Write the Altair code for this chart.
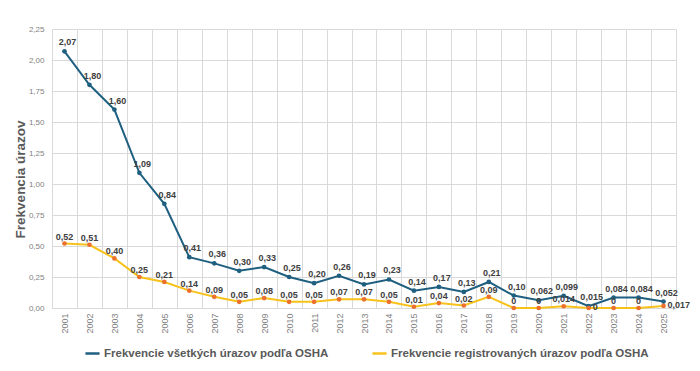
import altair as alt
import pandas as pd

years = [str(y) for y in range(2001, 2026)]
all_injuries = [2.07, 1.80, 1.60, 1.09, 0.84, 0.41, 0.36, 0.30, 0.33, 0.25, 0.20, 0.26, 0.19,
                0.23, 0.14, 0.17, 0.13, 0.21, 0.10, 0.062, 0.099, 0.015, 0.084, 0.084, 0.052]
registered = [0.52, 0.51, 0.40, 0.25, 0.21, 0.14, 0.09, 0.05, 0.08, 0.05, 0.05, 0.07, 0.07,
              0.05, 0.01, 0.04, 0.02, 0.09, 0, 0, 0.014, 0, 0, 0, 0.017]
series_names = ["Frekvencie všetkých úrazov podľa OSHA",
                "Frekvencie registrovaných úrazov podľa OSHA"]


def fmt(v):
    if v == 0:
        return "0"
    s = f"{v:.2f}" if round(v, 2) == v else f"{v:.3f}"
    return s.replace(".", ",")


rows = []
for i, (name, vals) in enumerate(zip(series_names, [all_injuries, registered])):
    for j, (y, v) in enumerate(zip(years, vals)):
        # registered labels that would collide with the upper series go to the right
        side = (i == 1) and (all_injuries[j] - v < 0.04)
        rows.append({"year": y, "value": v, "series": name, "label": fmt(v),
                     "grp": "top" if i == 0 else ("reg_side" if side else "reg_top")})
df = pd.DataFrame(rows)

FONT = "Liberation Sans"
line_colors = ["#1f5f80", "#f7c21b"]
marker_colors = ["#1f5f80", "#ec6f2d"]

x = alt.X("year:O", title=None,
          scale=alt.Scale(type="band", paddingInner=0, paddingOuter=0),
          axis=alt.Axis(labelAngle=270, labelFontSize=9, labelColor="#7f7f7f", labelFont=FONT,
                        tickBand="extent", grid=True, gridColor="#d9d9d9", ticks=False,
                        domain=False, labelPadding=5))
y = alt.Y("value:Q", title="Frekvencia  úrazov",
          scale=alt.Scale(domain=[0, 2.25], nice=False),
          axis=alt.Axis(values=[0, 0.25, 0.5, 0.75, 1.0, 1.25, 1.5, 1.75, 2.0, 2.25],
                        labelExpr="replace(format(datum.value, '.2f'), '.', ',')",
                        labelFontSize=8, labelColor="#7f7f7f", labelFont=FONT,
                        titleFont=FONT, titleFontSize=13.5, titleFontWeight="bold",
                        titleColor="#595959", titlePadding=1, titleY=150,
                        ticks=False, domain=False,
                        gridColor="#d9d9d9", labelPadding=8))

color = alt.Color("series:N", title=None,
                  scale=alt.Scale(domain=series_names, range=line_colors),
                  sort=series_names,
                  legend=alt.Legend(orient="none", legendX=32, legendY=316,
                                    direction="horizontal",
                                    symbolType="stroke", symbolStrokeWidth=2.5,
                                    symbolSize=200, labelFont=FONT, labelFontSize=11.5,
                                    labelFontWeight="bold", labelColor="#595959",
                                    columnPadding=38, labelOffset=3, labelLimit=400))

base = alt.Chart(df)
lines = base.mark_line(strokeWidth=2).encode(x=x, y=y, color=color)
points = base.mark_point(filled=True, size=22, opacity=1).encode(
    x=x, y=y,
    color=alt.Color("series:N", scale=alt.Scale(domain=series_names, range=marker_colors),
                    legend=None))
text_style = dict(font=FONT, fontSize=9, fontWeight="bold", color="#404040")
labels_top = base.transform_filter(alt.datum.grp == "top").mark_text(
    dy=-9, dx=3, **text_style).encode(x=x, y=y, text="label:N")
labels_reg = base.transform_filter(alt.datum.grp == "reg_top").mark_text(
    dy=-7, **text_style).encode(x=x, y=y, text="label:N")
labels_side = base.transform_filter(alt.datum.grp == "reg_side").mark_text(
    align="left", dx=4, dy=-1, **text_style).encode(x=x, y=y, text="label:N")

chart = alt.layer(lines, points, labels_top, labels_reg, labels_side).resolve_scale(
    color="independent").properties(
    width=624, height=279,
    padding={"left": 5, "top": 17, "right": 0, "bottom": 2}
).configure_view(stroke=None)

chart.save("out.html", embed_options={"renderer": "svg", "actions": False})
